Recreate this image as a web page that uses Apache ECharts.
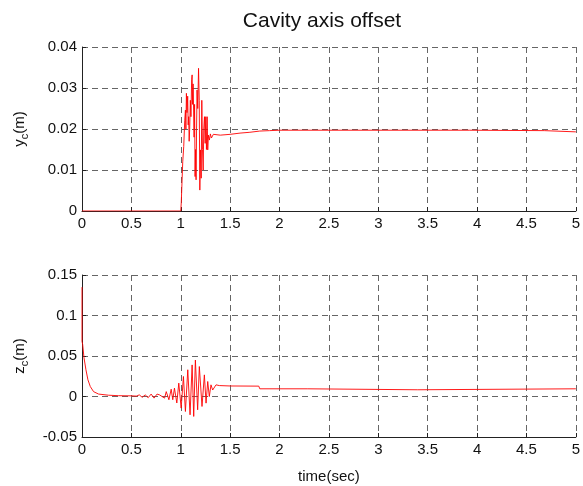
<!DOCTYPE html>
<html><head><meta charset="utf-8">
<script src="https://cdn.jsdelivr.net/npm/echarts@6/dist/echarts.min.js"></script>
<style>html,body{margin:0;padding:0;background:#fff}#c{width:583px;height:486px}</style>
</head><body><div id="c"></div>
<script>
var xTicks = [0, 0.5, 1, 1.5, 2, 2.5, 3, 3.5, 4, 4.5, 5];
var yTicks = [0, 0.01, 0.02, 0.03, 0.04];
var zTicks = [-0.05, 0, 0.05, 0.1, 0.15];

var yTime = [0, 1.0, 1.005, 1.02, 1.03, 1.04, 1.047, 1.052, 1.057, 1.063, 1.07, 1.075, 1.08, 1.085, 1.09, 1.097, 1.103, 1.11, 1.115, 1.12, 1.125, 1.13, 1.135, 1.14, 1.145, 1.15, 1.155, 1.16, 1.165, 1.172, 1.18, 1.187, 1.193, 1.2, 1.207, 1.213, 1.22, 1.227, 1.233, 1.24, 1.247, 1.253, 1.26, 1.267, 1.273, 1.28, 1.29, 1.3, 1.31, 1.33, 1.35, 1.4, 1.5, 1.6, 1.7, 1.8, 1.9, 2.0, 3.0, 3.92, 3.93, 4.68, 4.69, 5.0];
var yValues = [0, 0, 0.002, 0.012, 0.0157, 0.022, 0.0246, 0.020, 0.0287, 0.024, 0.028, 0.021, 0.023, 0.017, 0.0198, 0.027, 0.023, 0.032, 0.0332, 0.026, 0.031, 0.0311, 0.018, 0.026, 0.0084, 0.015, 0.0076, 0.02, 0.0295, 0.025, 0.0348, 0.027, 0.0051, 0.0149, 0.008, 0.027, 0.015, 0.01, 0.02, 0.023, 0.0165, 0.023, 0.015, 0.023, 0.0149, 0.0185, 0.0173, 0.0188, 0.0178, 0.0187, 0.0183, 0.0185, 0.0187, 0.019, 0.0192, 0.0195, 0.0196, 0.0197, 0.0197, 0.0197, 0.0196, 0.0196, 0.0193, 0.0193];

var zTime = [0, 0.0, 0.007, 0.02, 0.04, 0.06, 0.084, 0.117, 0.168, 0.268, 0.37, 0.5, 0.55, 0.58, 0.61, 0.64, 0.67, 0.7, 0.73, 0.76, 0.785, 0.802, 0.836, 0.853, 0.88, 0.903, 0.919, 0.936, 0.96, 0.98, 1.004, 1.027, 1.047, 1.071, 1.094, 1.115, 1.131, 1.148, 1.171, 1.188, 1.215, 1.239, 1.256, 1.273, 1.289, 1.306, 1.323, 1.357, 1.39, 1.5, 1.79, 1.8, 2.28, 2.29, 3.4, 3.41, 5.0];
var zValues = [0.135, 0.068, 0.064, 0.048, 0.033, 0.0206, 0.0123, 0.006, 0.003, 0.0016, 0.001, 0.0008, 0.0005, 0.002, -0.001, 0.002, -0.0015, 0.003, -0.002, 0.003, 0.002, 0.004, -0.002, 0.006, -0.004, 0.009, -0.004, 0.0103, -0.008, 0.0165, -0.0143, 0.0247, -0.0185, 0.033, -0.0226, 0.039, -0.0246, 0.045, -0.0164, 0.037, -0.0123, 0.0267, -0.0082, 0.0185, 0.0, 0.0144, 0.008, 0.0144, 0.0135, 0.013, 0.0128, 0.0095, 0.0095, 0.0083, 0.0083, 0.0095, 0.0095];

function zip(a, b) { return a.map(function (t, i) { return [t, b[i]]; }); }

var FONT = 'Liberation Sans, Arial, Helvetica, sans-serif';
var gridLine = { show: true, lineStyle: { color: '#666', type: [6, 4], width: 1 } };
var labelStyle = { color: '#111', fontSize: 15, fontFamily: FONT };

function xAxis(gi, name) {
  return {
    type: 'value', gridIndex: gi, min: xTicks[0], max: xTicks[xTicks.length - 1],
    interval: xTicks[1] - xTicks[0],
    axisLine: { show: true, onZero: false, lineStyle: { color: '#222', width: 1 } },
    axisTick: { show: true, inside: true, length: 4, lineStyle: { color: '#222' } },
    axisLabel: Object.assign({ margin: 5, showMinLabel: true, showMaxLabel: true }, labelStyle),
    splitLine: gridLine,
    name: name || '', nameLocation: 'middle', nameGap: 32,
    nameTextStyle: { color: '#111', fontSize: 15, fontFamily: FONT }
  };
}
function yAxis(gi, ticks, letter) {
  return {
    type: 'value', gridIndex: gi, min: ticks[0], max: ticks[ticks.length - 1],
    interval: ticks[1] - ticks[0],
    axisLine: { show: true, lineStyle: { color: '#222', width: 1 } },
    axisTick: { show: true, inside: true, length: 4, lineStyle: { color: '#222' } },
    axisLabel: Object.assign({ margin: 5 }, labelStyle),
    splitLine: gridLine,
    name: '{m|' + letter + '}{s|c}{m|(m)}', nameLocation: 'middle', nameRotate: 90, nameGap: 52,
    nameTextStyle: {
      rich: {
        m: { fontSize: 15, color: '#111', fontFamily: FONT },
        s: { fontSize: 11, color: '#111', fontFamily: FONT, verticalAlign: 'bottom', padding: [9, 0, 0, 0] }
      }
    }
  };
}

var chart = echarts.init(document.getElementById('c'), null, { renderer: 'canvas' });
chart.setOption({
  animation: false,
  backgroundColor: '#fff',
  title: {
    text: 'Cavity axis offset', left: 317, top: 6, textAlign: 'center',
    textStyle: { fontSize: 21, fontWeight: 'normal', color: '#111', fontFamily: FONT }
  },
  grid: [
    { left: 82, right: 4, top: 47, height: 164 },
    { left: 82, right: 4, top: 275, height: 162 }
  ],
  xAxis: [xAxis(0), xAxis(1, 'time(sec)')],
  yAxis: [yAxis(0, yTicks, 'y'), yAxis(1, zTicks, 'z')],
  series: [
    { type: 'line', xAxisIndex: 0, yAxisIndex: 0, data: zip(yTime, yValues), showSymbol: false,
      lineStyle: { color: '#ff0000', width: 0.9 }, itemStyle: { color: '#ff0000' } },
    { type: 'line', xAxisIndex: 1, yAxisIndex: 1, data: zip(zTime, zValues), showSymbol: false,
      lineStyle: { color: '#ff0000', width: 0.9 }, itemStyle: { color: '#ff0000' } }
  ]
});
</script></body></html>
